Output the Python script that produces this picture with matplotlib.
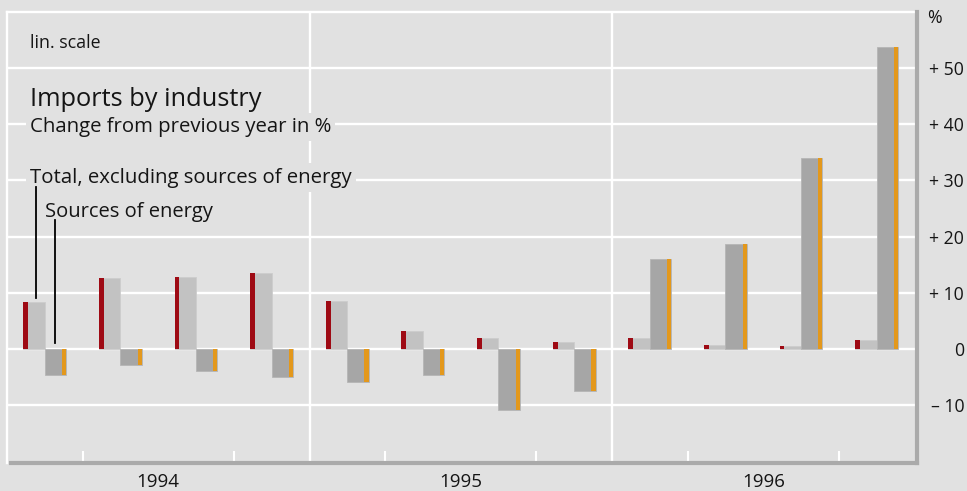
import matplotlib
matplotlib.use("Agg")
import matplotlib.pyplot as plt
import matplotlib.transforms as mtransforms
import numpy as np

# ---- data ----
quarters = ["Q1 1994", "Q2 1994", "Q3 1994", "Q4 1994",
            "Q1 1995", "Q2 1995", "Q3 1995", "Q4 1995",
            "Q1 1996", "Q2 1996", "Q3 1996", "Q4 1996"]
total_excl_energy = [8.4, 12.6, 12.8, 13.6, 8.5, 3.2, 2.0, 1.2, 2.0, 0.65, 0.6, 1.6]
sources_of_energy = [-4.6, -2.9, -4.0, -4.9, -5.8, -4.7, -10.9, -7.5, 16.0, 18.6, 34.0, 53.7]
years = ["1994", "1995", "1996"]
ytick_values = [-10, 0, 10, 20, 30, 40, 50]
ytick_labels = ["\u2013 10", "0", "+ 10", "+ 20", "+ 30", "+ 40", "+ 50"]

# ---- style ----
BG = "#e1e1e1"
RED = "#9e0a14"
LGRAY = "#c2c2c2"
DGRAY = "#a6a6a6"
ORANGE = "#e3981c"
AXGRAY = "#aaaaaa"
TXT = "#151515"
FONT = ["Open Sans", "DejaVu Sans"]
plt.rcParams["font.family"] = FONT

W, H, DPI = 967, 491, 100
fig = plt.figure(figsize=(W / DPI, H / DPI), dpi=DPI, facecolor=BG)
L, R, T, B = 7, 917, 12, 463
ax = fig.add_axes([L / W, 1 - B / H, (R - L) / W, (B - T) / H])
ax.set_facecolor(BG)

QPX = 75.625
xmax = (R - L) / QPX
ax.set_xlim(0, xmax)
ZERO_PX, PX10 = 349.0, 56.2
ax.set_ylim((ZERO_PX - B) / PX10 * 10, (ZERO_PX - T) / PX10 * 10)

x = np.arange(len(quarters))
tot = np.array(total_excl_energy)
eng = np.array(sources_of_energy)

# gridlines
for v in ytick_values:
    ax.axhline(v, color="white", lw=1.7, zorder=1)
for k in (4, 8):
    ax.axvline(k, color="white", lw=1.7, zorder=1)

# bars: total excl energy (red edge + light gray), energy (dark gray + orange edge)
ax.bar(x + 0.216, tot, width=0.283, align="edge", color=LGRAY, zorder=3,
       edgecolor="#cdcdcd", lw=0.6)
ax.bar(x + 0.216, tot, width=0.064, align="edge", color=RED, zorder=4, lw=0)
ax.bar(x + 0.499, eng, width=0.284, align="edge", color=DGRAY, zorder=3,
       edgecolor="#b5b5b5", lw=0.6)
ax.bar(x + 0.726, eng, width=0.057, align="edge", color=ORANGE, zorder=4, lw=0)

# frame: white top/left, gray right/bottom
for s in ("top", "left"):
    ax.spines[s].set_color("white")
    ax.spines[s].set_linewidth(1.7)
for s in ("right", "bottom"):
    ax.spines[s].set_color(AXGRAY)
    ax.spines[s].set_linewidth(3)
    ax.spines[s].set_zorder(5)
ax.spines["bottom"].set_bounds(4 / QPX, xmax)

# y ticks on right
ax.yaxis.tick_right()
ax.set_yticks(ytick_values)
ax.set_yticklabels(ytick_labels, ha="right", fontsize=12.7, color=TXT)
ax.tick_params(axis="y", length=0, pad=34)

# x: quarter minor ticks, year labels
ax.set_xticks([k for k in range(1, 12) if k % 4 != 0], minor=True)
ax.set_xticks([2, 6, 10])
ax.set_xticklabels(years, fontsize=13.5, color=TXT)
ax.tick_params(axis="x", which="major", length=0, pad=7)
ax.tick_params(axis="x", which="minor", direction="in", length=9, width=1.5, color="white")

# helpers: pixel -> data
def dx(px):
    return (px - L) / QPX

def dy(py):
    return (ZERO_PX - py) / PX10 * 10

ax.text(1.0 + 10 / (R - L), dy(18), "%",
        transform=mtransforms.blended_transform_factory(ax.transAxes, ax.transData),
        ha="left", va="center", fontsize=12.7, color=TXT, clip_on=False)

box = dict(boxstyle="square,pad=0.2", facecolor=BG, edgecolor="none")
ax.text(dx(30), dy(47.5), "lin. scale", fontsize=12.8, color=TXT, va="baseline", zorder=6)
ax.text(dx(30), dy(106.5), "Imports by industry", fontsize=18.3, color=TXT, va="baseline", zorder=6, bbox=box)
ax.text(dx(30), dy(132), "Change from previous year in %", fontsize=14.7, color=TXT, va="baseline", zorder=6, bbox=box)
ax.text(dx(30), dy(182.5), "Total, excluding sources of energy", fontsize=14.7, color=TXT, va="baseline", zorder=6, bbox=box)
ax.text(dx(45), dy(216.5), "Sources of energy", fontsize=14.5, color=TXT, va="baseline", zorder=6, bbox=box)

# leader lines
ax.plot([dx(35.7), dx(35.7)], [dy(187), dy(298)], color="black", lw=1.3, zorder=7)
ax.plot([dx(55.3), dx(55.3)], [dy(220), dy(343)], color="black", lw=1.3, zorder=7)

fig.savefig("out.png", dpi=DPI, facecolor=BG)
